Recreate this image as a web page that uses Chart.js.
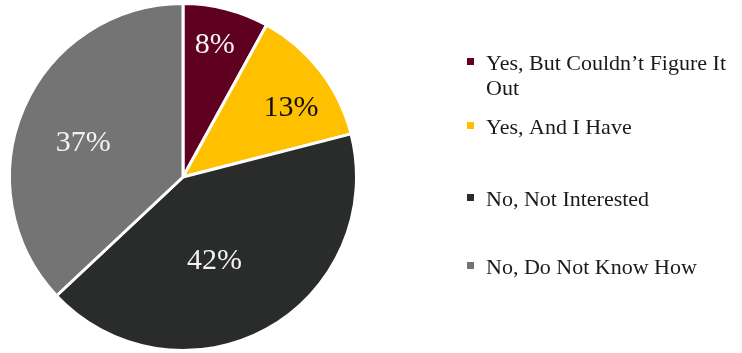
<!DOCTYPE html>
<html>
<head>
<meta charset="utf-8">
<script src="https://cdn.jsdelivr.net/npm/chart.js@4.4.1/dist/chart.umd.min.js"></script>
<style>
  html, body { margin: 0; padding: 0; background: #ffffff; }
  #wrap { position: relative; width: 742px; height: 353px; overflow: hidden; }
</style>
</head>
<body>
<div id="wrap"><canvas id="pie" width="742" height="353"></canvas></div>
<script>
// Survey answers and their shares (percent)
const categories = [
  "Yes, But Couldn\u2019t Figure It Out",
  "Yes, And I Have",
  "No, Not Interested",
  "No, Do Not Know How"
];
const shares = [8, 13, 42, 37];
const sliceColors = ["#600021", "#FFC000", "#2A2C2B", "#747474"];
const labelColors = ["#f2f2f2", "#111111", "#f2f2f2", "#f2f2f2"];

const SERIF = '"Liberation Serif", "Times New Roman", serif';

// Where each percentage sits inside its slice: fraction of radius and angle nudge (deg)
const labelPlacement = [
  { r: 0.79, da: -1 },
  { r: 0.74, da: 5 },
  { r: 0.51, da: 8 },
  { r: 0.61, da: -4 }
];

// Percentages written inside the slices
const sliceLabels = {
  id: "sliceLabels",
  afterDatasetsDraw(chart) {
    const ctx = chart.ctx;
    const meta = chart.getDatasetMeta(0);
    ctx.save();
    ctx.font = "30px " + SERIF;
    ctx.textAlign = "center";
    ctx.textBaseline = "middle";
    meta.data.forEach((arc, i) => {
      const p = arc.getProps(["x", "y", "startAngle", "endAngle", "outerRadius"], true);
      const mid = (p.startAngle + p.endAngle) / 2 + labelPlacement[i].da * Math.PI / 180;
      const rr = p.outerRadius * labelPlacement[i].r;
      ctx.fillStyle = labelColors[i];
      ctx.fillText(shares[i] + "%", p.x + Math.cos(mid) * rr, p.y + Math.sin(mid) * rr + 1);
    });
    ctx.restore();
  }
};

// Legend on the right: small square swatch, wrapped serif text
const sideLegend = {
  id: "sideLegend",
  afterDraw(chart, args, opts) {
    const ctx = chart.ctx;
    ctx.save();
    ctx.font = opts.fontSize + "px " + SERIF;
    ctx.textBaseline = "alphabetic";
    ctx.textAlign = "left";
    categories.forEach((name, i) => {
      const base = opts.baselines[i];
      ctx.fillStyle = sliceColors[i];
      ctx.fillRect(opts.x, base - 12, 7, 7);
      // word wrap within the text column
      const words = name.split(" ");
      const lines = [];
      let line = "";
      words.forEach(w => {
        const t = line ? line + " " + w : w;
        if (ctx.measureText(t).width > opts.textWidth && line) { lines.push(line); line = w; }
        else line = t;
      });
      lines.push(line);
      ctx.fillStyle = "#1a1a1a";
      lines.forEach((l, k) => ctx.fillText(l, opts.x + 19, base + k * opts.lineHeight));
    });
    ctx.restore();
  }
};

new Chart(document.getElementById("pie"), {
  type: "pie",
  data: {
    labels: categories,
    datasets: [{
      data: shares,
      backgroundColor: sliceColors,
      borderColor: "#ffffff",
      borderWidth: 3
    }]
  },
  options: {
    responsive: false,
    animation: false,
    layout: { padding: { top: 2, bottom: 1, left: 8, right: 384 } },
    plugins: {
      legend: { display: false },
      tooltip: { enabled: false },
      sideLegend: { x: 467, baselines: [70, 134, 206, 274], lineHeight: 25, fontSize: 22, textWidth: 252 }
    }
  },
  plugins: [sliceLabels, sideLegend]
});
</script>
</body>
</html>
